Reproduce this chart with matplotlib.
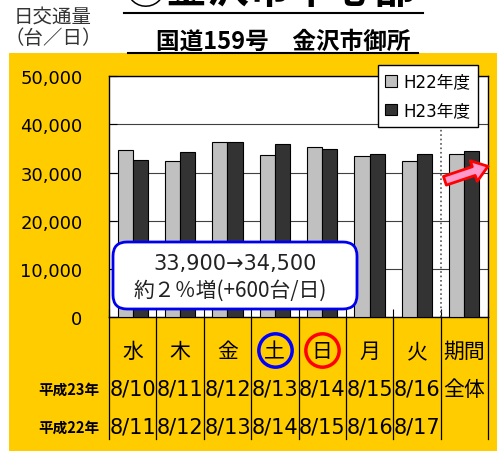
import numpy as np
import matplotlib.pyplot as plt
import matplotlib.transforms as mtransforms
from matplotlib.patches import Rectangle, FancyBboxPatch, Patch
from matplotlib.lines import Line2D
from matplotlib.ticker import FuncFormatter

# data
days = ['水', '木', '金', '土', '日', '月', '火', '期間']
dates_h23 = ['8/10', '8/11', '8/12', '8/13', '8/14', '8/15', '8/16', '全体']
dates_h22 = ['8/11', '8/12', '8/13', '8/14', '8/15', '8/16', '8/17', '']
h22 = [34600, 32400, 36400, 33700, 35300, 33400, 32400, 33900]
h23 = [32700, 34300, 36400, 36000, 34900, 33900, 33900, 34500]
series_labels = ['H22年度', 'H23年度']

plt.rcParams['font.family'] = ['DejaVu Sans', 'Noto Sans CJK JP']
JP = ['Noto Sans CJK JP', 'DejaVu Sans']

W, H = 501, 452
fig = plt.figure(figsize=(W / 100, H / 100), dpi=100)
fig.patch.set_facecolor('white')


def fx(px):
    return px / W


def fy(py):
    return 1 - py / H


# yellow panel
fig.add_artist(Rectangle((fx(9), 0), fx(497) - fx(9), fy(54), transform=fig.transFigure,
                         facecolor='#FFCC00', edgecolor='none', zorder=-1))

# titles
fig.text(fx(271), fy(-9), '④金沢市中心部', family=JP, fontsize=30, fontweight='bold',
         ha='center', va='center')
fig.add_artist(Line2D([fx(124), fx(423)], [fy(13.5), fy(13.5)], color='black', lw=1.5,
                      transform=fig.transFigure))
fig.text(fx(283), fy(42), '国道159号\u3000金沢市御所', family=JP, fontsize=17,
         fontweight='bold', ha='center', va='center')
fig.add_artist(Line2D([fx(128), fx(418)], [fy(53.5), fy(53.5)], color='black', lw=1.5,
                      transform=fig.transFigure))
fig.text(fx(53), fy(17), '日交通量', family=JP, fontsize=14, color='#333333',
         ha='center', va='center')
fig.text(fx(53), fy(39), '（台／日）', family=JP, fontsize=14, color='#333333',
         ha='center', va='center')

# bar axes
ax = fig.add_axes([fx(109), fy(318), fx(488) - fx(109), fy(77.3) - fy(318)])
ax.set_facecolor('white')
x = np.arange(len(days)) + 0.5
bw = 0.32
ax.bar(x - 0.16, h22, bw, color='#C0C0C0', edgecolor='black', lw=0.8, zorder=3)
ax.bar(x + 0.16, h23, bw, color='#333333', edgecolor='black', lw=0.8, zorder=3)

ax.set_yticks(np.arange(0, 50001, 10000))
ax.yaxis.set_major_formatter(FuncFormatter(lambda v, p: f'{int(v):,}'))
ax.grid(axis='y', color='#404040', lw=0.8, zorder=1)
ax.tick_params(axis='y', direction='in', length=6, pad=19, labelsize=13)
ax.set_xticks(np.arange(0, 9))
ax.tick_params(axis='x', direction='in', length=6, labelbottom=False)
for s in ax.spines.values():
    s.set_linewidth(1)

# dotted separator before the total
ax.plot([7, 7], [0, 50000], ls=':', color='#555555', lw=1.2, zorder=2)

# pink arrow
ax.annotate('', xy=(8.0, 31300), xytext=(7.09, 28300),
            arrowprops=dict(arrowstyle='simple,head_width=1.3,head_length=0.9,tail_width=0.55',
                            fc='#FF99CC', ec='red', lw=2, mutation_scale=12,
                            shrinkA=0, shrinkB=0),
            annotation_clip=False, zorder=6)

leg = ax.legend([Patch(fc='#C0C0C0', ec='black', lw=0.8), Patch(fc='#333333', ec='black', lw=0.8)],
                series_labels, loc='upper right', bbox_to_anchor=(fx(478), fy(66)),
                bbox_transform=fig.transFigure, fontsize=12, fancybox=False, framealpha=1,
                edgecolor='black', borderaxespad=0, handlelength=0.7, handleheight=0.7,
                labelspacing=0.65, borderpad=0.45, handletextpad=0.4)
leg.get_frame().set_linewidth(1)
leg.set_zorder(7)

ax.set_xlim(0, 8)
ax.set_ylim(0, 50000)

# table beneath the axes
trans = mtransforms.blended_transform_factory(ax.transData, fig.transFigure)
for i in range(9):
    ax.plot([i, i], [fy(318), fy(440)], color='black', lw=0.9, transform=trans, clip_on=False)
for i in range(len(days)):
    ax.text(x[i], fy(352), days[i], family=JP, fontsize=15, ha='center', va='center',
            transform=trans)
    ax.text(x[i], fy(390), dates_h23[i], fontsize=15 if '/' in dates_h23[i] else 15,
            family=['DejaVu Sans', 'Noto Sans CJK JP'] if '/' in dates_h23[i] else JP,
            ha='center', va='center', transform=trans)
    ax.text(x[i], fy(428), dates_h22[i], fontsize=15, ha='center', va='center', transform=trans)
ax.plot([3.5], [fy(351)], marker='o', ms=24, mfc='none', mec='#0000FF', mew=2.5,
        transform=trans, clip_on=False)
ax.plot([4.5], [fy(351)], marker='o', ms=24, mfc='none', mec='#FF0000', mew=2.5,
        transform=trans, clip_on=False)
fig.text(fx(69), fy(390), '平成23年', family=JP, fontsize=10.5, fontweight='bold',
         ha='center', va='center')
fig.text(fx(69), fy(428), '平成22年', family=JP, fontsize=10.5, fontweight='bold',
         ha='center', va='center')

# callout box
box = FancyBboxPatch((fx(113), fy(310)), fx(357) - fx(113), fy(243) - fy(310),
                     boxstyle='round,pad=0,rounding_size=0.028', mutation_aspect=W / H,
                     transform=fig.transFigure, fc='white', ec='#0000EE', lw=2, zorder=5)
fig.add_artist(box)
fig.text(fx(235), fy(264), '33,900→34,500', fontsize=15, ha='center', va='center',
         color='#222222', zorder=6)
fig.text(fx(230), fy(291), '約２％増(+600台/日)', family=JP, fontsize=15, ha='center',
         va='center', color='#222222', zorder=6)

fig.savefig('out.png', dpi=100)
